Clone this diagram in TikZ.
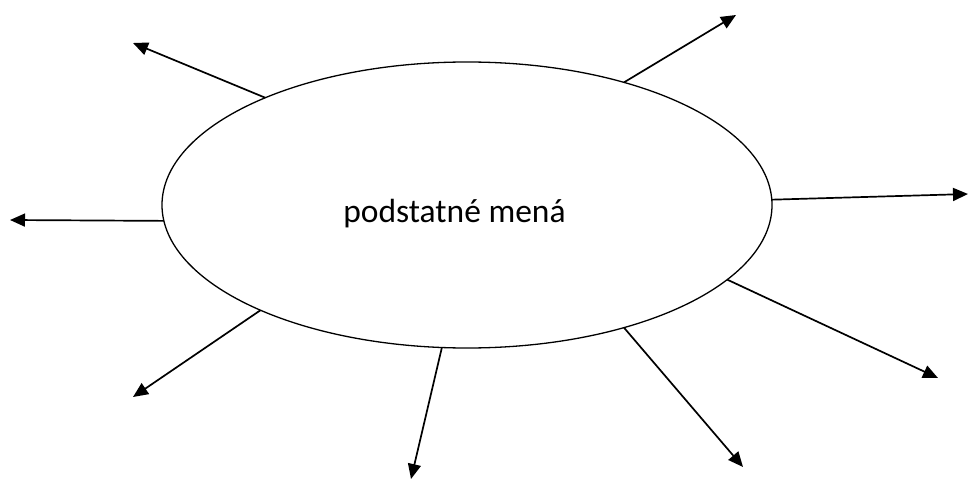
\documentclass[tikz,border=0pt]{standalone}
\usepackage{fontspec}
\setmainfont{Carlito}
\usetikzlibrary{shapes.geometric,arrows.meta}
\begin{document}
\begin{tikzpicture}[x=1pt,y=1pt,
  ray/.style={line width=1.7pt,-{Triangle[length=15pt,width=13pt]}},
  bubble/.style={ellipse,draw,line width=1.3pt,minimum width=610pt,minimum height=286pt,inner sep=0pt,outer sep=0pt}]
\useasboundingbox (0,0) rectangle (968,480);
\node[bubble] (e) at (467,275) {};
\node[anchor=base,font=\fontsize{33.5}{38}\selectfont] (t) at (454.5,258) {podstatné mená};
\coordinate (t1) at (133,437);
\coordinate (t2) at (736,465);
\coordinate (t3) at (968,286);
\coordinate (t4) at (10,260);
\coordinate (t5) at (133,83);
\coordinate (t6) at (411,1);
\coordinate (t7) at (743,13);
\coordinate (t8) at (938,102);
\draw[ray] (e.152.65) -- (t1);
\draw[ray] (e.38.4) -- (t2);
\draw[ray] (e.1.7) -- (t3);
\draw[ray] (e.183) -- (t4);
\draw[ray] (e.207.7) -- (t5);
\draw[ray] (e.260) -- (t6);
\draw[ray] (e.322) -- (t7);
\draw[ray] (e.344.3) -- (t8);
\end{tikzpicture}
\end{document}
